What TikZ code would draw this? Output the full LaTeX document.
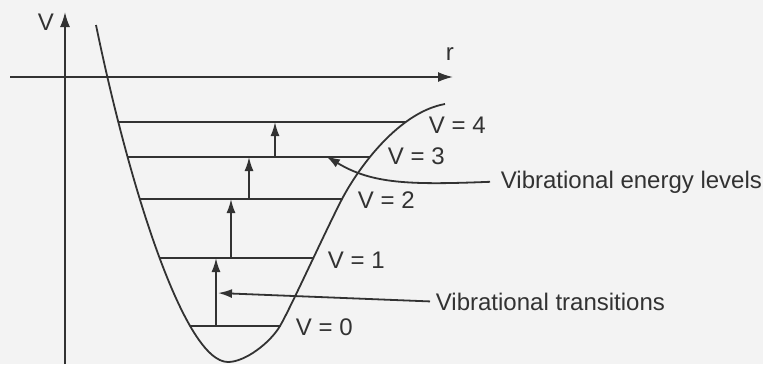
\documentclass[tikz,border=0pt]{standalone}
\usepackage{fontspec}
\setmainfont{Liberation Sans}
\usetikzlibrary{arrows.meta, intersections}
\definecolor{ink}{RGB}{50,50,50}
\definecolor{paper}{RGB}{243,243,243}
\begin{document}
\begin{tikzpicture}[x=0.5pt, y=-0.5pt, line width=0.9pt, draw=ink,
    axisarrow/.style={-{Latex[length=7.5pt,width=5pt]}},
    trans/.style={-{Latex[length=7pt,width=4.5pt]}},
    lbl/.style={text=ink, inner sep=0pt, anchor=base west, font=\fontsize{12}{14}\selectfont}]
    \fill[paper] (0,0) rectangle (763,364);
    \useasboundingbox (0,0) rectangle (763,364);

    % Axes
    \draw[axisarrow] (65,364) -- (65,12);
    \draw[axisarrow] (10,77) -- (453,77);
    \node[lbl] (vaxis) at (37,30) {V};
    \node[lbl] (raxis) at (445,60) {r};

    % Potential well
    \draw[name path=well] (96,25) .. controls (130,190) and (185,362) .. (228,362)
        .. controls (245,362) and (270,343) .. (280,326)
        .. controls (290,309) and (325,232) .. (342,199)
        .. controls (360,165) and (400,112) .. (445,104);

    % Levels, ends cut on the curve
    \foreach \y [count=\i from 0] in {326,258,199,157,122} {
        \path[name path=lvl] (100,\y) -- (470,\y);
        \path[name intersections={of=well and lvl, sort by=lvl, by={L\i,R\i}}];
        \draw (L\i) -- (R\i);
    }

    % Transitions
    \foreach \x/\ya/\yb in {216/326/258, 231/258/199, 249/199/157, 275/157/122}
        \draw[trans] (\x,\ya) -- (\x,\yb);

    % Level labels
    \node[lbl] (v0) at (295,335) {V = 0};
    \node[lbl] (v1) at (327,268) {V = 1};
    \node[lbl] (v2) at (357,208) {V = 2};
    \node[lbl] (v3) at (387,164) {V = 3};
    \node[lbl] (v4) at (428,133) {V = 4};

    % Pointers
    \node[lbl] (elev) at (500,188) {Vibrational energy levels};
    \coordinate (etip) at (326,156);
    \draw[trans] ([xshift=-5pt]elev.west) .. controls (410,185) and (372,184) .. (etip);

    \node[lbl] (vtrans) at (435,310) {Vibrational transitions};
    \coordinate (ttip) at (218,293);
    \draw[trans] ([xshift=-2.5pt]vtrans.west) -- (ttip);
\end{tikzpicture}
\end{document}
